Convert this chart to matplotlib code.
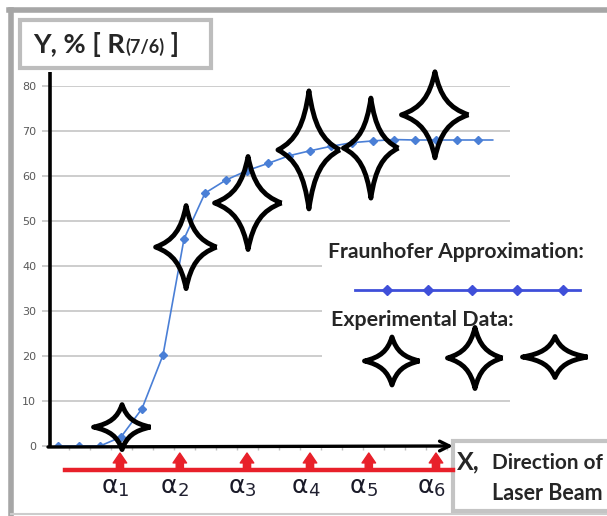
import matplotlib
matplotlib.use("Agg")
import matplotlib.pyplot as plt
import matplotlib.patches as mpatches
import matplotlib.transforms as mtransforms
from matplotlib.lines import Line2D
from matplotlib.path import Path

W, H = 607, 516

# --- Data ---
fraun_x = list(range(21))
fraun_y = [0, 0, 0, 2, 8.3, 20.2, 46, 56.2, 59.1, 61.2, 62.8, 64.5, 65.6,
           66.6, 67.4, 67.8, 68.1, 68, 68, 68, 68]
curve_end = 20.7

exp_x = [3.05, 6.1, 9.05, 11.95, 14.9, 17.95]
exp_y = [4.2, 44.2, 54.0, 65.8, 66.2, 73.6]

alpha_x = [2.95, 5.8, 9.0, 12.0, 14.8, 18.0]
alpha_sub = ["1", "2", "3", "4", "5", "6"]

y_ticks = [0, 10, 20, 30, 40, 50, 60, 70, 80]

# --- Style ---
star_px = [(57, 45), (61, 83), (67, 93), (62, 118), (55, 100), (67, 86)]
legend_star_px = [(392, 361, 55, 48), (475, 358, 55, 61), (555, 357, 65, 41)]
BLUE = "#4a7fd6"
LEG_BLUE = "#3f4fd9"
RED = "#e8202a"
TXT = "#262626"
BOLD_FONT = ["Lato", "DejaVu Sans"]


def fx(x):
    return x / W


def fy(y):
    return 1 - y / H


def star_path():
    a, b = 0.42, 0.16
    verts = [(1, 0),
             (a, b), (b, a), (0, 1),
             (-b, a), (-a, b), (-1, 0),
             (-a, -b), (-b, -a), (0, -1),
             (b, -a), (a, -b), (1, 0)]
    codes = [Path.MOVETO] + [Path.CURVE4] * 12
    return Path(verts, codes)


def fit_text(x, y, s, width, size=14, **kw):
    t = fig.text(fx(x), fy(y), s, fontsize=size, **kw)
    r = fig.canvas.get_renderer()
    w = t.get_window_extent(renderer=r).width
    t.set_fontsize(size * width / w)
    return t


fig = plt.figure(figsize=(W / 100, H / 100), dpi=100)
ax = fig.add_axes([fx(50), fy(446), 460 / W, 360 / H])
ax.set_xlim(-8 / 21, 452 / 21)
ax.set_ylim(0, 80)
for s in ax.spines.values():
    s.set_visible(False)

ax.set_yticks(y_ticks)
ax.grid(axis="y", color="#c9c9c9", lw=1.3)
ax.tick_params(axis="y", length=6, width=1.3, color="#c9c9c9",
               labelsize=8, labelcolor="#595959", pad=4)
ax.set_xticks([i + 0.5 for i in range(21)])
ax.tick_params(axis="x", length=3, width=1, color="#c0c0c0", labelbottom=False)

# Fraunhofer curve
ax.plot(fraun_x + [curve_end], fraun_y + [fraun_y[-1]], color=BLUE, lw=1.2, zorder=3)
ax.plot(fraun_x, fraun_y, ls="none", marker="D", ms=4, color=BLUE, zorder=3)

# experimental points as hand-style stars
sp = star_path()
for x, y, (w, h) in zip(exp_x, exp_y, star_px):
    tr = mtransforms.Affine2D().scale(w / 2, h / 2) + \
        mtransforms.ScaledTranslation(x, y, ax.transData)
    ax.add_patch(mpatches.PathPatch(sp, transform=tr, fill=False, ec="black",
                                    lw=3.5, joinstyle="round", clip_on=False, zorder=4))

# black axes with arrow
fig.add_artist(Line2D([fx(50), fx(50)], [fy(448), fy(72)], transform=fig.transFigure,
                      color="black", lw=2.6, solid_capstyle="butt"))
ax.annotate("", xy=(fx(453), fy(446)), xytext=(fx(48), fy(447)),
            xycoords="figure fraction", textcoords="figure fraction",
            arrowprops=dict(arrowstyle="->,head_length=0.7,head_width=0.35",
                            color="black", lw=2.4, shrinkA=0, shrinkB=0))

# red laser line with alpha markers
fig.add_artist(Line2D([fx(65), fx(453)], [fy(470), fy(470)], transform=fig.transFigure,
                      color=RED, lw=3.2))
blend = mtransforms.blended_transform_factory(ax.transData, fig.transFigure)
for x, sub in zip(alpha_x, alpha_sub):
    ax.annotate("", xy=(x, fy(453)), xytext=(x, fy(470)),
                xycoords=blend, textcoords=blend, annotation_clip=False,
                arrowprops=dict(arrowstyle="simple,head_width=0.75,head_length=0.55,tail_width=0.4",
                                color=RED, mutation_scale=13, shrinkA=0, shrinkB=0))
    ta = mtransforms.offset_copy(blend, fig=fig, x=-7.6, y=0, units="points")
    ax.text(x, fy(486), "α", transform=ta, ha="center", va="center",
            fontsize=18, color="#1a1a28", family="DejaVu Sans")
    ts = mtransforms.offset_copy(blend, fig=fig, x=2.4, y=0, units="points")
    ax.text(x, fy(491), sub, transform=ts, ha="center", va="center",
            fontsize=13, color="#202030", family="DejaVu Sans")

# outer frame
fig.add_artist(Line2D([fx(9), fx(607)], [fy(10), fy(10)], transform=fig.transFigure,
                      color="#a6a6a6", lw=4))
fig.add_artist(Line2D([fx(11), fx(11)], [fy(10), fy(514)], transform=fig.transFigure,
                      color="#a6a6a6", lw=4))
fig.add_artist(Line2D([fx(11), fx(607)], [fy(514), fy(514)], transform=fig.transFigure,
                      color="#cccccc", lw=1.5))

# y title box
fig.add_artist(mpatches.Rectangle((fx(20), fy(68)), 191 / W, 48 / H, transform=fig.transFigure,
                                  fc="white", ec="#bdbdbd", lw=3))
r = fig.canvas.get_renderer()
t1 = fit_text(33, 53, "Y, % [ R", 92, size=18, fontweight="bold", color=TXT,
              family=BOLD_FONT, va="baseline")
x1 = t1.get_window_extent(renderer=r).x1
t2 = fig.text(x1 / W, fy(53), "(7/6)", fontsize=13, fontweight="bold", color=TXT,
              family=BOLD_FONT, va="baseline")
x2 = t2.get_window_extent(renderer=r).x1
fig.text(x2 / W, fy(53), " ]", fontsize=t1.get_fontsize(), fontweight="bold", color=TXT,
         family=BOLD_FONT, va="baseline")

# x title box
fig.add_artist(mpatches.Rectangle((fx(453), fy(511)), 165 / W, 70 / H, transform=fig.transFigure,
                                  fc="white", ec="#c4c4c4", lw=3))
fig.text(fx(457), fy(462), "X,", fontsize=18, fontweight="bold", color=TXT,
         family=BOLD_FONT, va="center")
fit_text(492, 463, "Direction of", 111, size=13, fontweight="bold", color=TXT,
         family=BOLD_FONT, va="center")
fit_text(492, 494, "Laser Beam", 111, size=13, fontweight="bold", color=TXT,
         family=BOLD_FONT, va="center")

# legend panel
fig.add_artist(mpatches.Rectangle((fx(322), fy(388)), 290 / W, 156 / H, transform=fig.transFigure,
                                  fc="white", ec="none"))
fit_text(328, 252, "Fraunhofer Approximation:", 259, size=14, fontweight="bold",
         color=TXT, family=BOLD_FONT, va="center")
fit_text(331, 320, "Experimental Data:", 184, size=14, fontweight="bold",
         color=TXT, family=BOLD_FONT, va="center")
fig.add_artist(Line2D([fx(355), fx(580)], [fy(290), fy(290)], transform=fig.transFigure,
                      color=LEG_BLUE, lw=2))
fig.add_artist(Line2D([fx(v) for v in (387, 428, 472, 517, 563)], [fy(290)] * 5,
                      transform=fig.transFigure, ls="none", marker="D", ms=5.5,
                      color=LEG_BLUE))
for x, y, w, h in legend_star_px:
    tr = mtransforms.Affine2D().scale(w / 2, h / 2).translate(x, H - y)
    fig.add_artist(mpatches.PathPatch(sp, transform=tr, fill=False, ec="black",
                                      lw=3.5, joinstyle="round"))

fig.savefig("out.png", dpi=100)
